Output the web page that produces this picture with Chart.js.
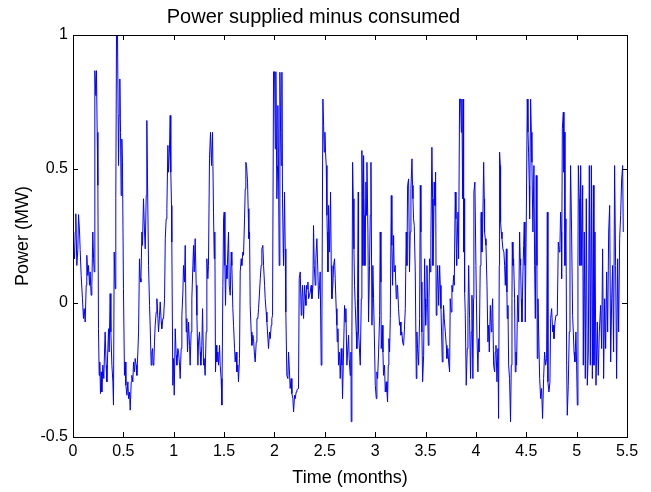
<!DOCTYPE html>
<html>
<head>
<meta charset="utf-8">
<script src="https://cdn.jsdelivr.net/npm/chart.js@4"></script>
<style>
html,body{margin:0;padding:0;background:#fff;}
#wrap{width:651px;height:492px;position:relative;}
</style>
</head>
<body>
<div id="wrap"><canvas id="c"></canvas></div>
<script>
const chartTitle = "Power supplied minus consumed";
const xAxisTitle = "Time (months)";
const yAxisTitle = "Power (MW)";
const xTickLabels = ["0","0.5","1","1.5","2","2.5","3","3.5","4","4.5","5","5.5"];
const yTickLabels = ["-0.5","0","0.5","1"];

const time = [
0,0.015,0.022,0.028,0.038,0.048,0.055,0.065,0.071,0.081,0.094,0.104,0.111,0.121,0.131,0.137,0.147,0.154,0.164,0.17,
0.18,0.187,0.197,0.204,0.21,0.217,0.227,0.233,0.24,0.247,0.253,0.26,0.266,0.273,0.28,0.286,0.296,0.306,0.313,0.319,
0.329,0.336,0.346,0.353,0.359,0.369,0.376,0.386,0.396,0.402,0.409,0.419,0.425,0.432,0.442,0.452,0.458,0.465,0.472,0.478,
0.485,0.491,0.501,0.511,0.518,0.525,0.535,0.545,0.551,0.561,0.568,0.578,0.584,0.594,0.601,0.611,0.617,0.627,0.634,0.644,
0.651,0.66,0.667,0.674,0.684,0.69,0.7,0.71,0.717,0.727,0.733,0.74,0.75,0.76,0.766,0.776,0.783,0.79,0.796,0.803,
0.809,0.816,0.826,0.833,0.843,0.849,0.859,0.866,0.876,0.881,0.892,0.899,0.909,0.916,0.925,0.932,0.942,
0.948,0.958,0.965,0.971,0.978,0.981,0.991,0.998,1.005,1.015,1.024,1.031,1.041,1.048,1.058,1.064,1.074,1.081,1.091,1.097,
1.107,1.114,1.124,1.13,1.137,1.147,1.157,1.163,1.173,1.18,1.19,1.197,1.203,1.213,1.223,1.23,1.24,1.246,1.256,1.263,
1.269,1.279,1.286,1.296,1.302,1.312,1.322,1.329,1.339,1.345,1.355,1.365,1.375,1.385,1.395,1.402,1.408,1.415,1.422,1.428,
1.438,1.445,1.455,1.461,1.471,1.478,1.488,1.495,1.501,1.508,1.514,1.521,1.528,1.538,1.544,1.551,1.561,1.571,1.577,1.587,
1.594,1.604,1.61,1.62,1.627,1.637,1.643,1.653,1.66,1.67,1.676,1.686,1.693,1.703,1.71,1.716,1.723,1.733,1.739,1.746,
1.753,1.759,1.769,1.776,1.786,1.792,1.802,1.809,1.819,1.826,1.835,1.842,1.852,1.859,1.868,1.875,1.885,
1.892,1.902,1.908,1.918,1.925,1.935,1.941,1.951,1.958,1.968,1.974,1.981,1.991,2.001,2.008,2.014,2.024,2.031,2.034,2.041,
2.047,2.054,2.061,2.067,2.074,2.08,2.087,2.09,2.1,2.107,2.113,2.123,2.133,2.14,2.146,2.156,2.166,2.173,2.183,2.19,
2.2,2.206,2.216,2.223,2.233,2.239,2.246,2.256,2.266,2.272,2.279,2.289,2.299,2.306,2.312,2.319,2.325,2.332,2.339,2.348,
2.355,2.365,2.372,2.382,2.388,2.395,2.405,2.411,2.421,2.431,2.438,2.448,2.454,2.464,2.471,2.481,2.488,2.494,2.501,2.507,
2.514,2.521,2.524,2.531,2.537,2.547,2.557,2.564,2.57,2.58,2.587,2.597,2.603,2.613,2.62,2.623,2.63,2.636,2.646,2.653,
2.663,2.67,2.676,2.686,2.696,2.703,2.709,2.719,2.726,2.736,2.742,2.752,2.759,2.762,2.769,2.776,2.782,2.789,2.795,2.802,
2.812,2.818,2.825,2.832,
2.835,2.845,2.852,2.862,2.868,2.875,2.878,2.885,2.891,2.898,2.908,2.915,2.918,2.928,2.934,2.944,2.951,2.958,2.968,2.977,
2.984,2.991,3.001,3.011,3.017,3.024,3.034,3.044,3.05,3.057,3.06,3.07,3.077,3.083,3.093,3.1,3.11,3.117,3.123,3.13,
3.136,3.143,3.15,3.16,3.166,3.173,3.183,3.189,3.199,3.209,3.216,3.222,3.232,3.242,3.249,3.256,3.265,3.272,3.282,3.289,
3.299,3.308,3.315,3.322,3.332,3.341,3.348,3.355,3.365,3.371,3.375,3.381,3.388,3.398,3.408,3.414,3.421,3.431,3.441,3.448,
3.454,3.457,3.464,3.471,3.481,3.491,3.497,3.501,3.507,3.514,3.52,3.527,3.534,3.54,3.547,3.553,3.563,3.57,3.573,3.58,
3.586,3.593,3.6,3.606,3.613,3.62,3.63,3.64,3.646,3.653,3.659,3.666,3.673,3.679,3.686,3.696,3.706,3.712,3.722,3.729,
3.739,3.745,3.755,3.762,3.769,3.779,3.785,3.795,3.802,3.808,3.812,3.822,3.828,3.838,3.848,3.855,3.861,3.868,3.875,3.878,
3.884,3.888,3.894,3.904,3.914,3.921,3.928,3.937,3.947,3.954,3.961,3.97,3.977,3.98,3.99,4.0,4.01,4.02,4.027,4.033,
4.043,4.05,4.053,4.06,4.067,4.077,4.083,4.086,4.093,4.1,4.11,4.119,4.126,4.133,4.143,4.153,4.159,4.166,4.176,4.186,
4.192,4.199,4.209,4.219,4.225,4.232,4.235,4.242,4.245,4.252,4.259,4.268,4.278,4.285,4.292,4.302,4.308,4.311,4.318,4.325,
4.334,4.344,4.351,4.358,4.361,4.368,4.374,4.384,4.391,4.398,4.404,4.414,4.424,4.434,4.44,4.444,4.45,4.457,4.467,4.474,
4.48,4.487,4.49,4.5,4.51,4.517,4.523,4.53,4.533,4.54,4.543,4.55,4.556,4.566,4.576,4.583,4.59,4.599,4.606,4.609,
4.616,4.623,4.633,4.643,
4.652,4.662,4.672,4.682,4.692,4.702,4.709,4.715,4.725,4.735,4.742,4.752,4.762,4.768,4.775,4.785,4.795,4.808,4.818,4.828,
4.834,4.841,4.848,4.851,4.858,4.868,4.874,4.881,4.884,4.894,4.901,4.907,4.917,4.927,4.934,4.94,4.95,4.96,4.967,4.974,
4.983,4.993,5.0,5.007,5.013,5.017,5.026,5.033,5.04,5.05,5.06,5.066,5.076,5.086,5.096,5.106,5.116,5.126,5.136,5.146,
5.156,5.166,5.172,5.182,5.192,5.205,5.215,5.225,5.238,5.248,5.258,5.268,5.278,5.288,5.298,5.308,5.318,5.328,5.338,5.348,
5.357,5.367,5.377,5.387,5.397,5.407,5.417,5.427,5.437,5.447,5.457,5.463
];

const power = [
0.25,0.165,0.265,0.333,0.14,0.2,0.33,0.265,0.2,0.103,0.016,-0.058,-0.021,-0.071,0.066,0.178,0.103,0.14,0.066,0.116,
0.029,0.066,0.265,0.165,0.116,0.867,0.774,0.867,0.637,0.439,-0.096,-0.27,-0.22,-0.338,-0.257,-0.332,-0.232,-0.282,-0.183,-0.108,
-0.232,-0.294,-0.17,-0.096,-0.183,0.035,-0.108,-0.232,-0.294,-0.381,0.19,0.053,0.389,1.0,1.0,0.513,0.7,0.836,0.637,0.401,
0.612,0.525,0.053,-0.27,-0.22,-0.307,-0.344,-0.294,-0.357,-0.332,-0.4,-0.294,-0.27,-0.294,-0.22,-0.257,-0.207,-0.232,-0.27,-0.183,
-0.108,0.165,0.091,0.078,0.265,0.215,0.389,0.265,0.202,0.401,0.681,0.451,0.14,-0.009,-0.083,-0.232,-0.183,-0.17,-0.232,-0.22,
-0.145,-0.083,-0.034,0.016,-0.058,-0.108,-0.046,0.004,-0.071,-0.096,-0.058,-0.058,0.016,0.24,0.314,0.352,0.588,
0.488,0.575,0.7,0.488,0.364,0.227,-0.307,-0.207,-0.344,-0.096,-0.195,-0.232,-0.17,-0.183,-0.232,-0.282,-0.17,-0.046,0.041,0.14,
0.078,0.215,-0.108,-0.058,-0.183,-0.071,-0.158,-0.232,-0.108,0.016,0.14,0.215,0.116,0.24,0.066,-0.046,-0.232,-0.145,-0.108,-0.183,
-0.232,-0.158,-0.021,-0.232,-0.207,-0.27,-0.108,0.165,0.091,0.14,0.538,0.637,0.513,0.637,0.339,0.165,0.265,-0.257,-0.158,-0.22,
-0.183,-0.232,-0.158,-0.232,-0.282,-0.381,0.066,0.314,0.339,0.14,-0.009,0.14,0.091,0.202,0.265,0.066,0.029,0.19,0.14,-0.021,
-0.083,-0.17,-0.22,-0.183,-0.257,-0.232,-0.294,-0.207,0.116,0.165,0.14,0.19,0.178,0.314,0.426,0.525,0.513,0.451,0.352,0.24,
0.265,-0.009,-0.108,-0.158,-0.12,-0.133,-0.195,-0.22,-0.145,-0.058,-0.058,-0.021,0.041,0.091,0.14,0.202,0.215,
0.14,0.066,0.016,-0.034,-0.071,-0.133,-0.17,-0.108,-0.133,-0.083,-0.058,-0.046,0.863,0.863,0.575,0.863,0.389,0.513,0.737,0.451,
0.14,0.861,0.637,0.513,0.861,0.389,0.202,0.14,0.414,0.202,-0.034,-0.27,-0.282,-0.183,-0.232,-0.319,-0.282,-0.338,-0.357,-0.406,
-0.344,-0.357,-0.332,-0.325,-0.319,-0.319,0.091,0.116,-0.046,0.016,0.066,-0.058,0.066,0.029,-0.009,0.066,0.053,0.078,0.016,0.029,
0.041,0.066,0.016,0.066,0.289,0.14,0.066,0.165,0.24,0.116,0.016,0.066,0.116,-0.232,-0.071,0.761,0.662,0.563,0.637,0.563,
0.513,0.327,0.265,0.116,0.364,0.19,0.414,0.14,0.016,0.066,0.14,0.165,0.091,-0.021,-0.083,-0.145,-0.096,-0.232,-0.183,-0.282,
-0.17,-0.232,-0.357,-0.183,-0.009,-0.071,-0.021,-0.232,-0.183,-0.12,-0.207,-0.27,-0.183,-0.443,-0.108,0.525,0.389,0.202,0.066,-0.009,
-0.108,-0.17,0.016,0.414,
-0.108,-0.183,-0.232,0.016,0.569,0.389,0.14,0.55,0.327,0.14,0.451,0.327,0.525,0.265,-0.071,0.14,0.327,0.525,-0.083,0.14,
0.016,-0.108,-0.307,-0.357,-0.257,-0.282,-0.183,-0.046,0.265,0.078,-0.17,-0.083,-0.183,-0.27,-0.232,-0.332,-0.294,-0.332,-0.369,-0.232,
-0.133,-0.183,-0.058,0.401,0.215,0.066,0.252,0.116,0.14,0.016,0.066,0.066,-0.021,-0.083,-0.071,-0.12,-0.108,-0.145,-0.158,-0.108,
-0.021,0.265,0.14,0.439,0.463,0.116,0.265,0.426,0.538,0.439,0.389,0.314,0.289,0.116,-0.282,-0.108,-0.17,-0.232,-0.058,0.439,
0.265,0.078,-0.108,-0.294,-0.195,0.165,0.016,-0.083,-0.009,0.14,0.016,-0.158,0.016,0.165,0.116,0.24,0.581,0.389,0.14,0.265,
0.451,0.364,0.488,-0.046,0.041,0.14,-0.009,0.14,0.066,-0.021,-0.108,-0.22,-0.108,-0.009,-0.058,-0.108,-0.158,-0.207,-0.17,-0.22,
-0.257,0.016,-0.034,0.066,0.041,0.103,0.066,0.414,0.314,0.14,0.202,0.339,0.165,0.761,0.761,0.637,0.761,0.389,0.761,0.19,
0.389,0.041,-0.034,-0.307,-0.17,-0.046,0.14,-0.058,-0.282,-0.108,0.029,-0.282,0.016,0.414,0.451,0.14,-0.12,-0.257,-0.133,-0.183,
0.14,0.314,0.339,0.19,0.265,0.525,0.389,0.265,0.24,0.215,0.066,-0.145,-0.083,-0.183,-0.009,-0.108,-0.034,0.016,-0.232,-0.257,
-0.183,-0.158,-0.294,-0.17,-0.431,0.14,0.563,0.513,0.302,0.265,0.24,0.202,0.19,0.14,0.066,0.202,0.041,-0.058,-0.009,-0.232,
-0.282,-0.443,-0.232,0.016,0.227,0.14,0.165,0.016,-0.257,-0.183,-0.232,0.029,-0.071,0.265,0.165,0.14,0.016,-0.071,0.116,0.215,
0.302,0.14,-0.071,0.302,0.761,0.637,0.563,0.439,0.314,0.637,0.761,0.637,0.525,0.265,0.513,0.14,-0.058,0.476,0.14,-0.207,
0.016,-0.108,-0.282,-0.357,
-0.319,-0.431,-0.282,-0.183,-0.232,-0.207,0.339,-0.294,-0.332,-0.294,-0.058,-0.021,-0.108,-0.083,-0.133,-0.071,-0.046,-0.046,0.227,0.19,
0.215,0.339,0.265,0.091,0.65,0.712,0.488,0.637,0.14,0.314,-0.232,-0.419,-0.307,-0.108,0.265,0.513,0.265,-0.046,-0.108,-0.183,
-0.22,-0.108,-0.232,-0.381,0.14,0.513,0.389,0.14,0.513,0.14,0.439,-0.232,0.265,-0.282,0.389,-0.307,-0.183,0.513,-0.232,0.513,
-0.282,0.439,-0.232,0.265,-0.307,-0.071,-0.27,-0.108,-0.009,-0.17,0.202,-0.282,0.016,-0.17,0.116,-0.108,0.265,0.364,-0.22,0.016,
0.14,-0.183,0.513,0.14,-0.282,0.165,-0.108,0.24,0.327,0.463,0.513,0.265
];

const points = time.map((t, i) => ({x: t, y: power[i]}));
const FONT = "'Liberation Sans', Arial, Helvetica, sans-serif";

const frameTicks = {
  id: 'frameTicks',
  afterDatasetsDraw(chart) {
    const {ctx, chartArea: a, scales: {x, y}} = chart;
    const L = 5;
    ctx.save();
    ctx.strokeStyle = '#000';
    ctx.lineWidth = 1;
    ctx.beginPath();
    x.ticks.forEach(t => {
      const px = Math.round(x.getPixelForValue(t.value)) + 0.5;
      ctx.moveTo(px, a.bottom); ctx.lineTo(px, a.bottom - L);
      ctx.moveTo(px, a.top); ctx.lineTo(px, a.top + L);
    });
    y.ticks.forEach(t => {
      const py = Math.round(y.getPixelForValue(t.value)) + 0.5;
      ctx.moveTo(a.left, py); ctx.lineTo(a.left + L, py);
      ctx.moveTo(a.right, py); ctx.lineTo(a.right - L, py);
    });
    ctx.stroke();
    ctx.strokeRect(Math.round(a.left) + 0.5, Math.round(a.top) + 0.5,
                   Math.round(a.right - a.left), Math.round(a.bottom - a.top));
    ctx.restore();
  }
};

new Chart(document.getElementById('c'), {
  type: 'line',
  data: {
    datasets: [{
      data: points,
      borderColor: '#0000ff',
      borderWidth: 1,
      pointRadius: 0,
      tension: 0,
      fill: false
    }]
  },
  options: {
    responsive: true,
    maintainAspectRatio: false,
    animation: false,
    layout: {padding: {left: 0, right: 24, top: 0, bottom: 0}},
    plugins: {
      legend: {display: false},
      tooltip: {enabled: false},
      title: {
        display: true,
        text: chartTitle,
        color: '#000',
        font: {family: FONT, size: 20, weight: 'normal', lineHeight: 1.2},
        padding: {top: 5, bottom: 6}
      }
    },
    scales: {
      x: {
        type: 'linear',
        min: 0, max: 5.5,
        afterFit: s => { s.height = 55; },
        afterBuildTicks: s => { s.ticks = xTickLabels.map(v => ({value: parseFloat(v)})); },
        grid: {display: false, drawTicks: false},
        border: {display: false},
        ticks: {
          color: '#000', padding: 5, autoSkip: false, maxRotation: 0,
          font: {family: FONT, size: 16},
          callback: (v, i) => xTickLabels[i]
        },
        title: {display: true, text: xAxisTitle, color: '#000',
                font: {family: FONT, size: 18}, padding: {top: 0, bottom: 3}}
      },
      y: {
        type: 'linear',
        min: -0.5, max: 1,
        afterFit: s => { s.width = 73; },
        afterBuildTicks: s => { s.ticks = yTickLabels.map(v => ({value: parseFloat(v)})); },
        grid: {display: false, drawTicks: false},
        border: {display: false},
        ticks: {
          color: '#000', padding: 5, autoSkip: false,
          font: {family: FONT, size: 16},
          callback: (v, i) => yTickLabels[i]
        },
        title: {display: true, text: yAxisTitle, color: '#000',
                font: {family: FONT, size: 18}, padding: {top: 12, bottom: 0}}
      }
    }
  },
  plugins: [frameTicks]
});
</script>
</body>
</html>
